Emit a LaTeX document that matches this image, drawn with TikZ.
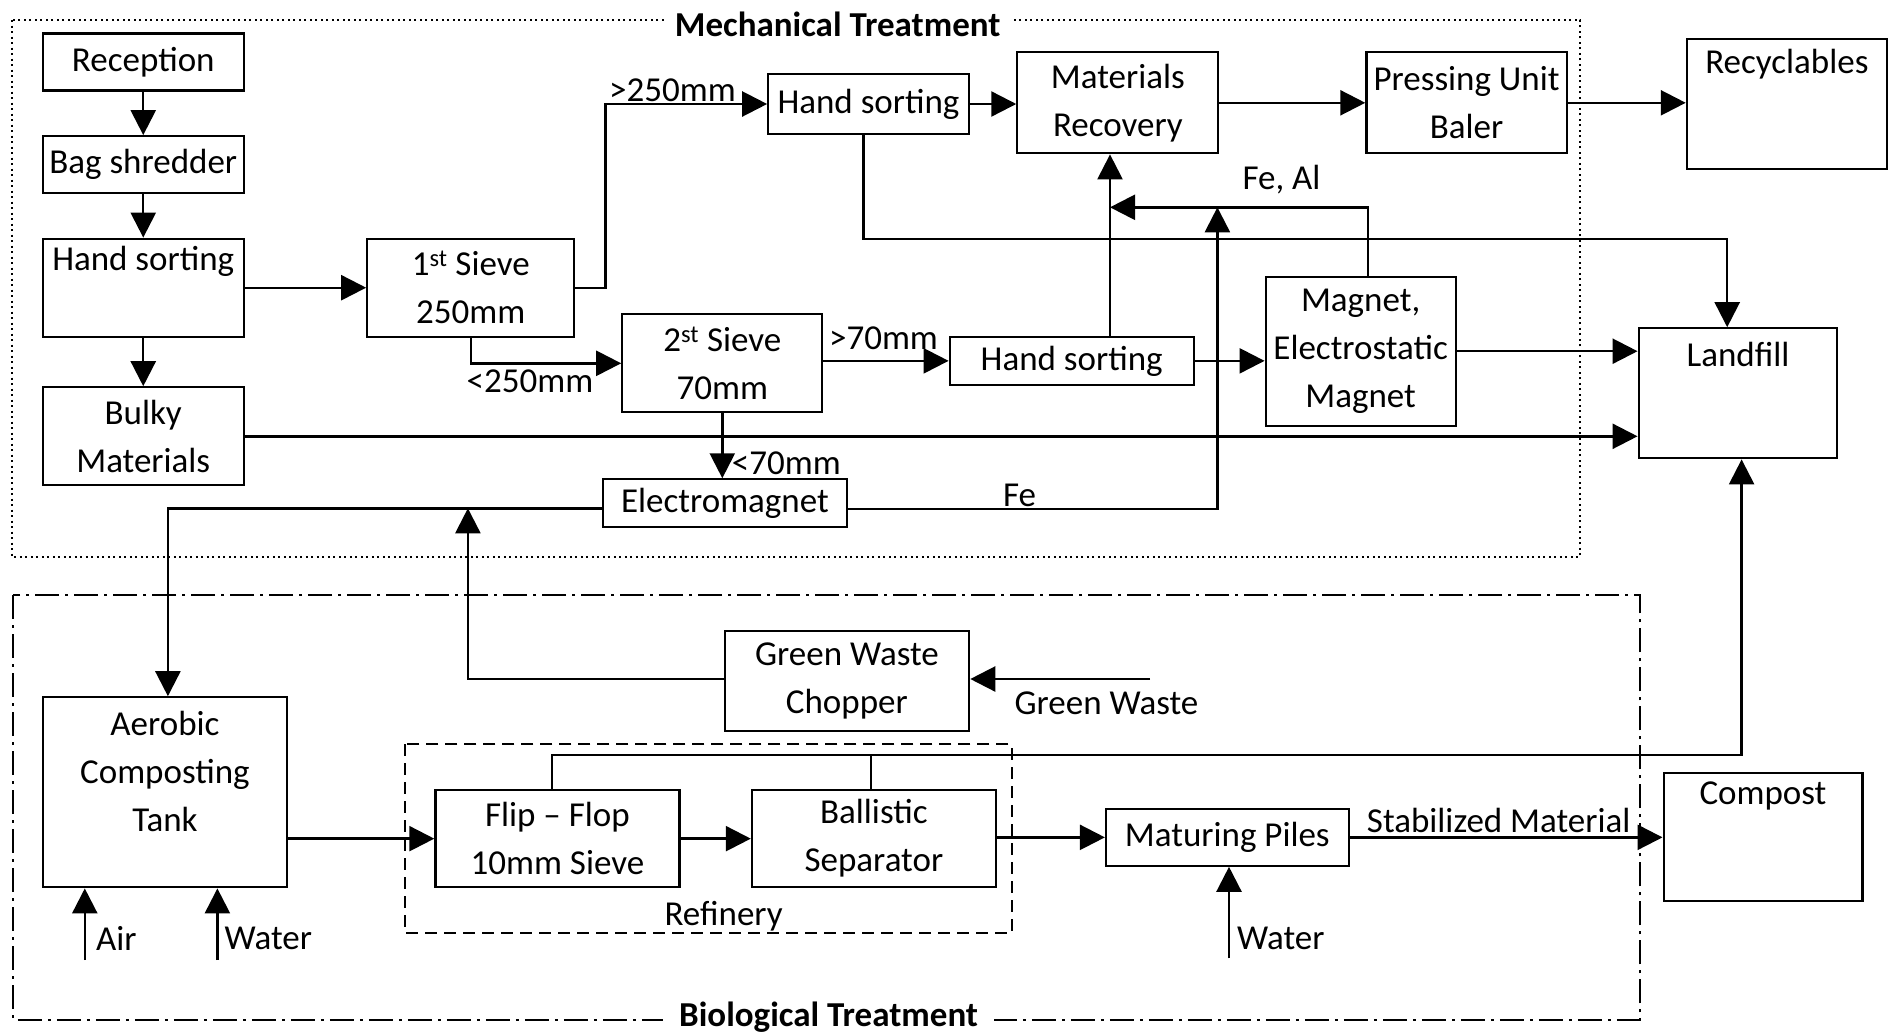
\documentclass[tikz,border=0pt]{standalone}
\usepackage{fontspec}
\setmainfont{Carlito}
\usetikzlibrary{arrows.meta,calc}
\newcommand{\fsz}{\fontsize{35}{48}\selectfont}
\begin{document}
\begin{tikzpicture}[x=1pt,y=-1pt,
  every node/.style={font=\fsz, inner sep=0pt},
  box/.style={draw, line width=2.2pt, align=center},
  arr/.style={line width=2.4pt, -{Triangle[length=25pt,width=25pt]}},
  ln/.style={line width=2.4pt},
  frametitle/.style={fill=white, font=\fsz\bfseries, inner xsep=10pt, inner ysep=2pt}]
\useasboundingbox (0,0) rectangle (1895,1034);

% frames
\draw[line width=2pt, dash pattern=on 2pt off 3.5pt] (12.4,20) rectangle (1580.3,557);
\draw[line width=2pt, dash pattern=on 24pt off 6pt on 3pt off 6pt] (13.4,595) rectangle (1639.7,1019.5);
\draw[line width=2pt, dash pattern=on 12pt off 7pt] (405.4,744) rectangle (1011.6,933.3);
\node[frametitle] (mtitle) at (837.7,24) {Mechanical Treatment};
\node[frametitle, inner xsep=16pt] (btitle) at (828.6,1017) {Biological Treatment};
\node (refl) at (723.6,916.7) {Refinery};

% boxes
\node[box, minimum width=201pt, minimum height=57pt] (rec) at (143.25,62) {Reception};
\node[box, minimum width=201pt, minimum height=57pt] (bag) at (143.25,164.7) {Bag shredder};
\node[box, minimum width=201pt, minimum height=98pt,
  label={[anchor=center,yshift=-24pt]north:Hand sorting}] (hs1) at (143.25,287.7) {};
\node[box, minimum width=201pt, minimum height=98pt] (bulky) at (143.25,436.3) {Bulky\\Materials};
\node[box, minimum width=207pt, minimum height=98pt] (s1) at (470.75,287.7) {1\textsuperscript{st} Sieve\\250mm};
\node[box, minimum width=200.5pt, minimum height=60pt] (hs2) at (868.5,104) {Hand sorting};
\node[box, minimum width=201pt, minimum height=101pt] (mr) at (1117.85,102.8) {Materials\\Recovery};
\node[box, minimum width=200.3pt, minimum height=101pt] (pu) at (1466.55,102.8) {Pressing Unit\\Baler};
\node[box, minimum width=200pt, minimum height=130pt,
  label={[anchor=center,yshift=-26pt]north:Recyclables}] (recy) at (1786.85,104) {};
\node[box, minimum width=200pt, minimum height=98pt] (s2) at (722.3,363.3) {2\textsuperscript{st} Sieve\\70mm};
\node[box, minimum width=244pt, minimum height=48.3pt] (hs3) at (1071.7,360.85) {Hand sorting};
\node[box, minimum width=190pt, minimum height=149pt] (mag) at (1360.65,351.2) {Magnet,\\Electrostatic\\Magnet};
\node[box, minimum width=198.7pt, minimum height=130pt,
  label={[anchor=center,yshift=-27pt]north:Landfill}] (land) at (1738,393.3) {};
\node[box, minimum width=244pt, minimum height=47.7pt] (em) at (724.95,503.2) {Electromagnet};
\node[box, minimum width=244.6pt, minimum height=100pt] (gwc) at (846.9,680.7) {Green Waste\\Chopper};
\node[box, minimum width=244pt, minimum height=190pt,
  label={[anchor=center,align=center,yshift=-75pt]north:Aerobic\\Composting\\Tank}] (aer) at (164.95,792.3) {};
\node[box, minimum width=244pt, minimum height=97.3pt] (ff) at (557.4,838.65) {Flip -- Flop\\10mm Sieve};
\node[box, minimum width=244pt, minimum height=97.3pt] (bal) at (873.9,838.65) {Ballistic\\Separator};
\node[box, minimum width=242.7pt, minimum height=56.7pt] (mat) at (1227.35,837.35) {Maturing Piles};
\node[box, minimum width=198.8pt, minimum height=127.7pt,
  label={[anchor=center,yshift=-24pt]north:Compost}] (comp) at (1763,837.15) {};

% coordinates for bends
\coordinate (b250) at (605.3,287.7);
\coordinate (mrv) at (1110,0);
\coordinate (fea) at (1368,207.3);
\coordinate (fev) at (1217.4,509);
\coordinate (h2a) at (863.4,239);
\coordinate (h2b) at (1727.2,239);
\coordinate (eml) at (167.9,508.3);
\coordinate (gwl) at (467.9,679);
\coordinate (gwin) at (1150,679);
\coordinate (tl1) at (552.2,754.7);
\coordinate (tl2) at (1741.6,754.7);
\coordinate (tl3) at (871,754.7);
\coordinate (air) at (84.8,960);
\coordinate (wat1) at (217.4,960);
\coordinate (wat2) at (1229,958.3);

% mechanical connectors
\draw[arr] (rec) -- (bag);
\draw[arr] (bag) -- (hs1);
\draw[arr] (hs1) -- (bulky);
\draw[arr] (hs1) -- (s1);
\draw[arr] (s1.east) -- (b250) -- (b250 |- hs2.west) -- (hs2.west);
\node (l250a) at (672.5,90) {>250mm};
\draw[arr] (s1.south) |- (s2.west);
\node (l250b) at (530,381.7) {<250mm};
\draw[arr] (s2.east |- hs3.west) -- (hs3.west);
\node (l70a) at (883.5,338) {>70mm};
\draw[arr] (s2.south) -- (s2.south |- em.north);
\node[anchor=west] (l70b) at (731.7,463.3) {<70mm};
\draw[arr] (hs3.east) -- (hs3.east -| mag.west);
\draw[arr] (mrv |- hs3.north) -- (mrv |- mr.south);
\draw[arr] (mag.north -| fea) -- (fea) -- (fea -| mrv);
\node (lfeal) at (1281.5,180) {Fe, Al};
\draw[arr] (em.east |- fev) -- (fev) -- (fev |- fea);
\node (lfe) at (1019.5,495) {Fe};
\draw[arr] (hs2.south -| h2a) -- (h2a) -- (h2b) -- (h2b |- land.north);
\draw[arr] (hs2.east) -- (hs2.east -| mr.west);
\draw[arr] (mr) -- (pu);
\draw[arr] (pu.east) -- (pu.east -| recy.west);
\draw[arr] (mag.east) -- (mag.east -| land.west);
\draw[arr] (bulky.east) -- (bulky.east -| land.west);

% biological connectors
\draw[arr] (em.west |- eml) -- (eml) -- (eml |- aer.north);
\draw[arr] (gwc.west |- gwl) -- (gwl) -- (gwl |- eml);
\draw[arr] (gwin) -- (gwin -| gwc.east);
\node (lgw) at (1106.4,703.3) {Green Waste};
\draw[arr] (aer.east |- ff.west) -- (ff.west);
\draw[arr] (ff) -- (bal);
\draw[arr] (bal.east |- mat.west) -- (mat.west);
\draw[arr] (mat.east) -- (mat.east -| comp.west);
\node (lstab) at (1498.7,820) {Stabilized Material};
\draw[arr] (ff.north -| tl1) -- (tl1) -- (tl2) -- (tl2 |- land.south);
\draw[ln] (tl3) -- (tl3 |- bal.north);
\draw[arr] (air) -- (air |- aer.south);
\node[anchor=west] (lair) at (96,938.3) {Air};
\draw[arr] (wat1) -- (wat1 |- aer.south);
\node[anchor=west] (lwat1) at (224.5,938.3) {Water};
\draw[arr] (wat2) -- (wat2 |- mat.south);
\node[anchor=west] (lwat2) at (1237,938.3) {Water};
\end{tikzpicture}
\end{document}
